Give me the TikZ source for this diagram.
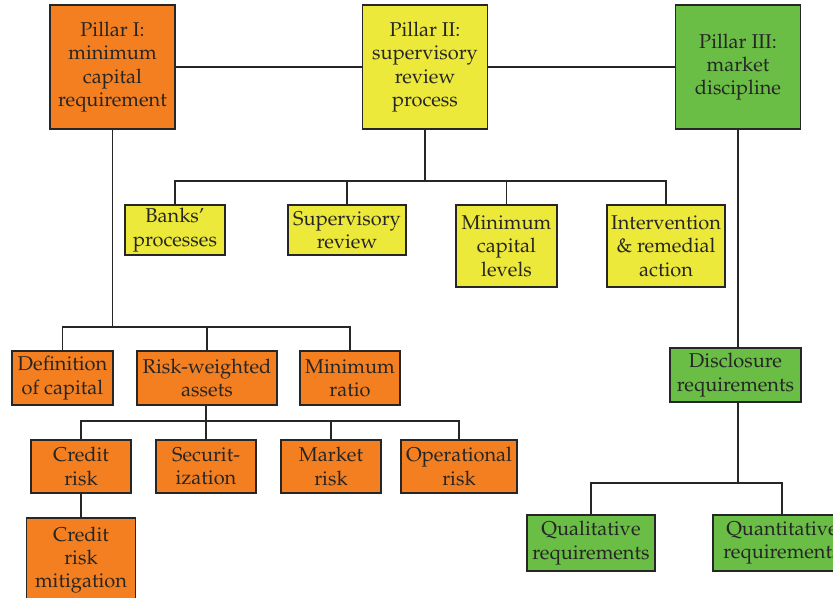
\documentclass[tikz,border=0pt]{standalone}
\usepackage[T1]{fontenc}
\usepackage{mathpazo}
\usepackage{tikz}
\usepackage{xcolor}
\definecolor{pilorange}{HTML}{F47F20}
\definecolor{pilyellow}{HTML}{EDE93A}
\definecolor{pilgreen}{HTML}{6ABD45}
\begin{document}
\begin{tikzpicture}[x=0.5pt,y=-0.5pt,
	box/.style={draw=black!85,line width=0.8pt,text=black!85,align=center,inner sep=1pt,font=\fontsize{10}{11.7}\selectfont},
	obox/.style={box,fill=pilorange},ybox/.style={box,fill=pilyellow},gbox/.style={box,fill=pilgreen},
	pillar/.style={minimum width=62.5pt,minimum height=62pt},
	link/.style={draw=black!85,line width=0.6pt}]
		\useasboundingbox (0,0) rectangle (833,598);
		\clip (0,0) rectangle (833,598);
		% the three pillars
		\node (p1)[obox,pillar] at (112.5,67) {Pillar I:\\minimum\\capital\\requirement};
		\node (p2)[ybox,pillar] at (425,67) {Pillar II:\\supervisory\\review\\process};
		\node (p3)[gbox,pillar] at (738,67) {Pillar III:\\market\\discipline};
		% pillar II
		\node (banks)[ybox,minimum width=50pt,minimum height=25pt] at (175,230) {Banks'\\processes};
		\node (superv)[ybox,minimum width=59pt,minimum height=25pt] at (347,230) {Supervisory\\review};
		\node (mincap)[ybox,minimum width=50.5pt,minimum height=41pt] at (506.5,246) {Minimum\\capital\\levels};
		\node (interv)[ybox,minimum width=59pt,minimum height=41pt] at (666,246) {Intervention\\\& remedial\\action};
		% pillar I
		\node (defcap)[obox,minimum width=50.5pt,minimum height=27pt] at (62.5,378) {Definition\\of capital};
		\node (rwa)[obox,minimum width=70pt,minimum height=27pt] at (207,378) {Risk-weighted\\assets};
		\node (minratio)[obox,minimum width=50pt,minimum height=27pt] at (350,378) {Minimum\\ratio};
		\node (credit)[obox,minimum width=50pt,minimum height=26.5pt] at (81,466.5) {Credit\\risk};
		\node (secur)[obox,minimum width=50pt,minimum height=26.5pt] at (206,466.5) {Securit-\\ization};
		\node (market)[obox,minimum width=50pt,minimum height=26.5pt] at (331,466.5) {Market\\risk};
		\node (oper)[obox,minimum width=58pt,minimum height=26.5pt] at (459,466.5) {Operational\\risk};
		\node (crm)[obox,minimum width=54.5pt,minimum height=42pt] at (81,560) {Credit\\risk\\mitigation};
		% pillar III
		\node (discl)[gbox,minimum width=65.5pt,minimum height=27pt] at (735.5,375) {Disclosure\\requirements};
		\node (qual)[gbox,minimum width=64pt,minimum height=28pt] at (591,543) {Qualitative\\requirements};
		\node (quant)[gbox,minimum width=69pt,minimum height=28pt] at (782,543) {Quantitative\\requirements};
		% connectors
		\coordinate (j1) at (112.5,327);
		\coordinate (j2) at (425,181);
		\coordinate (j3) at (206,421);
		\coordinate (j4) at (738,483);
		\draw[link] (p1.east) -- (p2.west) (p2.east) -- (p3.west);
		\draw[link] (p2.south) -- (j2) (banks.north) |- (j2) -| (interv.north);
		\draw[link] (superv.north) -- (superv.north |- j2) (mincap.north) -- (mincap.north |- j2);
		\draw[link] (p1.south) -- (j1) (defcap.north) |- (j1) -| (minratio.north);
		\draw[link] (rwa.north) -- (rwa.north |- j1);
		\draw[link] (rwa.south -| j3) -- (j3) (credit.north) |- (j3) -| (oper.north);
		\draw[link] (secur.north) -- (secur.north |- j3) (market.north) -- (market.north |- j3);
		\draw[link] (credit.south) -- (credit.south |- crm.north);
		\draw[link] (p3.south) -- (p3.south |- discl.north) (p3.south |- discl.south) -- (j4);
		\draw[link] (qual.north) |- (j4) -| (quant.north);
\end{tikzpicture}
\end{document}
